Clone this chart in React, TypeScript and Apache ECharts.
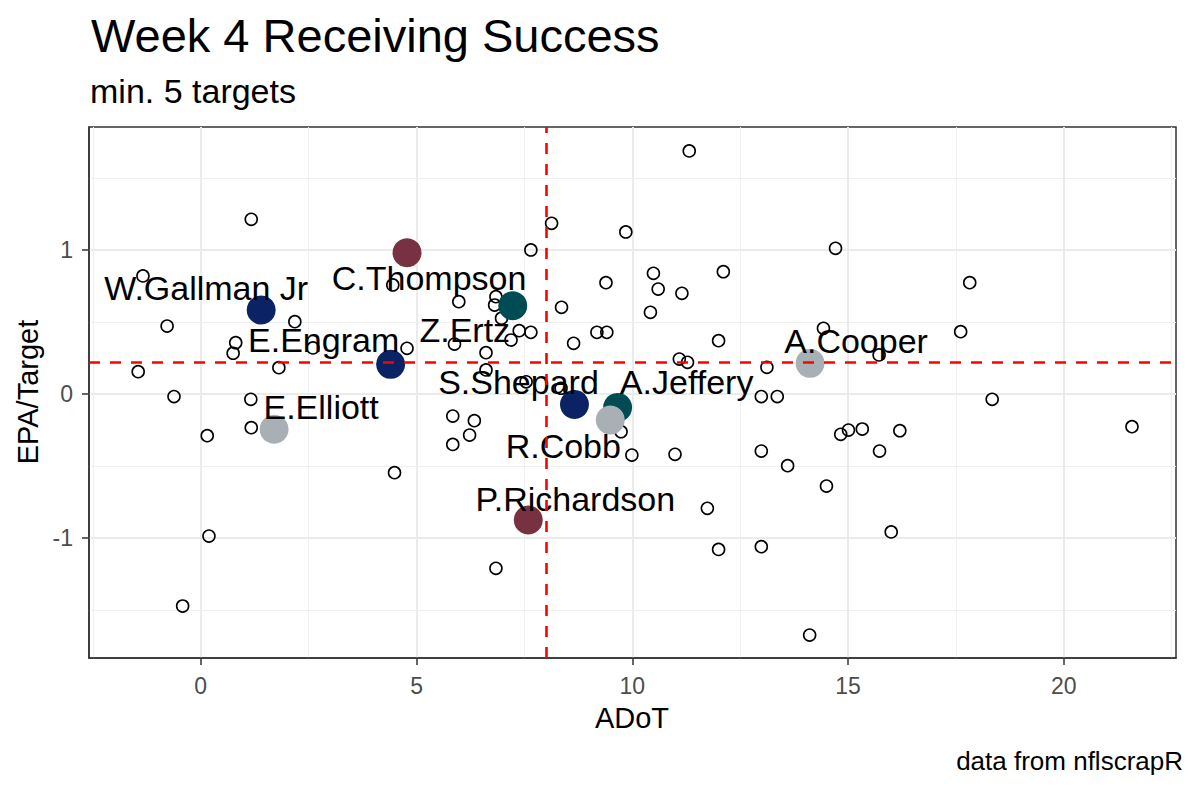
import React, { useEffect, useRef } from "react";
import * as echarts from "echarts";

// ---- data ----
const X_TICKS = [0, 5, 10, 15, 20];
const X_MINOR = [-2.5, 2.5, 7.5, 12.5, 17.5, 22.5];
const Y_TICKS = [-1, 0, 1];
const Y_MINOR = [-1.5, -0.5, 0.5, 1.5];

const OTHER_X = [
  1.17, -1.34, -0.78, 0.81, 0.75, 2.18, 1.81, -1.45, -0.62, 1.16,
  4.45, 4.78, 5.98, 5.88, 2.6, 0.15, 1.17, 4.49, 0.19, -0.42,
  5.84, 6.34, 6.23, 5.84, 11.32, 8.13, 7.65, 9.85, 14.71, 10.49,
  10.6, 9.39, 11.15, 12.11, 8.36, 10.42, 6.84, 6.81, 6.97, 7.38,
  7.65, 7.19, 6.61, 8.64, 9.18, 9.41, 12.0, 11.09, 11.28, 14.43,
  13.12, 6.61, 7.54, 8.35, 12.99, 13.36, 9.74, 9.99, 10.99, 12.99,
  13.6, 14.83, 15.01, 15.33, 14.5, 11.74, 12.0, 12.99, 6.84, 14.11,
  18.34, 16.2, 15.73, 16.0, 21.58, 17.82, 17.61, 15.72,
];
const OTHER_Y = [
  1.213, 0.82, 0.472, 0.356, 0.283, 0.502, 0.183, 0.155, -0.018, -0.037,
  0.757, 0.317, 0.641, 0.347, 0.32, -0.289, -0.234, -0.546, -0.986, -1.472,
  -0.153, -0.185, -0.285, -0.35, 1.688, 1.185, 1.0, 1.125, 1.012, 0.838,
  0.729, 0.773, 0.699, 0.849, 0.602, 0.567, 0.676, 0.618, 0.526, 0.44,
  0.428, 0.375, 0.287, 0.352, 0.428, 0.428, 0.37, 0.243, 0.22, 0.456,
  0.185, 0.167, 0.085, 0.04, -0.018, -0.018, -0.262, -0.424, -0.419, -0.396,
  -0.498, -0.28, -0.25, -0.243, -0.639, -0.794, -1.079, -1.06, -1.21, -1.674,
  -0.037, -0.255, -0.396, -0.958, -0.227, 0.773, 0.433, 0.271,
];

const PLAYERS = [
  "W.Gallman Jr", "C.Thompson", "Z.Ertz", "E.Engram", "E.Elliott",
  "S.Shepard", "A.Jeffery", "R.Cobb", "P.Richardson", "A.Cooper",
];
const PLAYER_X = [1.4, 4.78, 7.23, 4.4, 1.7, 8.66, 9.66, 9.49, 7.59, 14.12];
const PLAYER_Y = [0.583, 0.981, 0.613, 0.206, -0.245, -0.072, -0.093, -0.181, -0.875, 0.213];

const REF_X = 8.0;
const REF_Y = 0.222;

// ---- styles ----
const NAVY = "#0B2265";
const MAROON = "#773141";
const TEAL = "#004C54";
const SILVER = "#A9B0B5";
const PLAYER_COLORS = [NAVY, MAROON, TEAL, NAVY, SILVER, NAVY, TEAL, SILVER, MAROON, SILVER];
const LABEL_OFFSETS = [
  [-55, -22], [22, 25], [-48, 24], [-67, -24], [47, -22],
  [-56, -22], [69, -25], [-47, 26], [47, -21], [46, -22],
];

const FONT = "'Liberation Sans', Arial, Helvetica, sans-serif";
const X_MIN = -2.59;
const X_MAX = 22.6;
const Y_MIN = -1.833;
const Y_MAX = 1.854;

export default function App() {
  const ref = useRef<HTMLDivElement>(null);

  useEffect(() => {
    document.body.style.margin = "0";
    if (!ref.current) return;
    const chart = echarts.init(ref.current, undefined, { renderer: "svg" });

    const others = OTHER_X.map((x, i) => [x, OTHER_Y[i]]);
    const players = PLAYERS.map((name, i) => ({
      name,
      value: [PLAYER_X[i], PLAYER_Y[i]],
      itemStyle: { color: PLAYER_COLORS[i] },
    }));

    const option = {
      animation: false,
      grid: {
        left: 89,
        right: 24,
        top: 127,
        bottom: 132,
        show: true,
        borderColor: "#333333",
        borderWidth: 1.5,
        backgroundColor: "transparent",
      },
      xAxis: [
        {
          type: "value",
          min: X_MIN,
          max: X_MAX,
          position: "bottom",
          axisLine: { show: true, onZero: false, lineStyle: { color: "#333333", width: 1.5 } },
          axisTick: {
            show: true,
            length: 7,
            customValues: X_TICKS,
            lineStyle: { color: "#333333", width: 1.5 },
          },
          axisLabel: {
            customValues: X_TICKS,
            color: "#4D4D4D",
            fontSize: 23,
            fontFamily: FONT,
            margin: 16,
          },
          splitLine: { show: true, lineStyle: { color: "#EBEBEB", width: 2 } },
        },
        {
          type: "value",
          min: X_MIN,
          max: X_MAX,
          position: "top",
          axisLine: { show: false, onZero: false },
          axisTick: { show: false, customValues: X_MINOR },
          axisLabel: { show: false, customValues: X_MINOR },
          splitLine: { show: true, lineStyle: { color: "#F0F0F0", width: 1 } },
        },
      ],
      yAxis: [
        {
          type: "value",
          min: Y_MIN,
          max: Y_MAX,
          position: "left",
          axisLine: { show: true, onZero: false, lineStyle: { color: "#333333", width: 1.5 } },
          axisTick: {
            show: true,
            length: 7,
            customValues: Y_TICKS,
            lineStyle: { color: "#333333", width: 1.5 },
          },
          axisLabel: {
            customValues: Y_TICKS,
            color: "#4D4D4D",
            fontSize: 23,
            fontFamily: FONT,
            margin: 16,
          },
          splitLine: { show: true, lineStyle: { color: "#EBEBEB", width: 2 } },
        },
        {
          type: "value",
          min: Y_MIN,
          max: Y_MAX,
          position: "right",
          axisLine: { show: false, onZero: false },
          axisTick: { show: false, customValues: Y_MINOR },
          axisLabel: { show: false, customValues: Y_MINOR },
          splitLine: { show: true, lineStyle: { color: "#F0F0F0", width: 1 } },
        },
      ],
      series: [
        {
          type: "line",
          data: [],
          z: 1,
          silent: true,
          markLine: {
            silent: true,
            symbol: ["none", "none"],
            label: { show: false },
            lineStyle: { color: "#FF0000", width: 2.6, type: [11, 10] },
            data: [{ xAxis: REF_X }, { yAxis: REF_Y }],
          },
        },
        {
          type: "scatter",
          z: 2,
          symbol: "circle",
          symbolSize: 12,
          data: others,
          itemStyle: {
            color: "rgba(0,0,0,0)",
            borderColor: "#000000",
            borderWidth: 1.6,
            opacity: 1,
          },
          silent: true,
        },
        {
          type: "scatter",
          z: 3,
          symbol: "circle",
          symbolSize: 29,
          data: players,
          itemStyle: { opacity: 1 },
          label: {
            show: true,
            position: "inside",
            formatter: (p: any) => p.name,
            color: "#000000",
            fontSize: 34,
            fontFamily: FONT,
            align: "center",
            verticalAlign: "middle",
          },
          labelLayout: (params: any) => ({
            dx: LABEL_OFFSETS[params.dataIndex][0],
            dy: LABEL_OFFSETS[params.dataIndex][1],
            hideOverlap: false,
          }),
          silent: true,
        },
      ],
      graphic: [
        {
          type: "text",
          x: 91,
          y: 35,
          style: {
            text: "Week 4 Receiving Success",
            fontSize: 47,
            fontFamily: FONT,
            fill: "#000000",
            textAlign: "left",
            textVerticalAlign: "middle",
          },
        },
        {
          type: "text",
          x: 90,
          y: 91,
          style: {
            text: "min. 5 targets",
            fontSize: 34,
            fontFamily: FONT,
            fill: "#000000",
            textAlign: "left",
            textVerticalAlign: "middle",
          },
        },
        {
          type: "text",
          x: 632,
          y: 718,
          style: {
            text: "ADoT",
            fontSize: 29,
            fontFamily: FONT,
            fill: "#000000",
            textAlign: "center",
            textVerticalAlign: "middle",
          },
        },
        {
          type: "text",
          x: 28,
          y: 392,
          rotation: Math.PI / 2,
          style: {
            text: "EPA/Target",
            fontSize: 29,
            fontFamily: FONT,
            fill: "#000000",
            textAlign: "center",
            textVerticalAlign: "middle",
          },
        },
        {
          type: "text",
          x: 1183,
          y: 761,
          style: {
            text: "data from nflscrapR",
            fontSize: 26,
            fontFamily: FONT,
            fill: "#000000",
            textAlign: "right",
            textVerticalAlign: "middle",
          },
        },
      ],
    };

    chart.setOption(option as any);
    return () => chart.dispose();
  }, []);

  return <div ref={ref} style={{ width: 1200, height: 790 }} />;
}
